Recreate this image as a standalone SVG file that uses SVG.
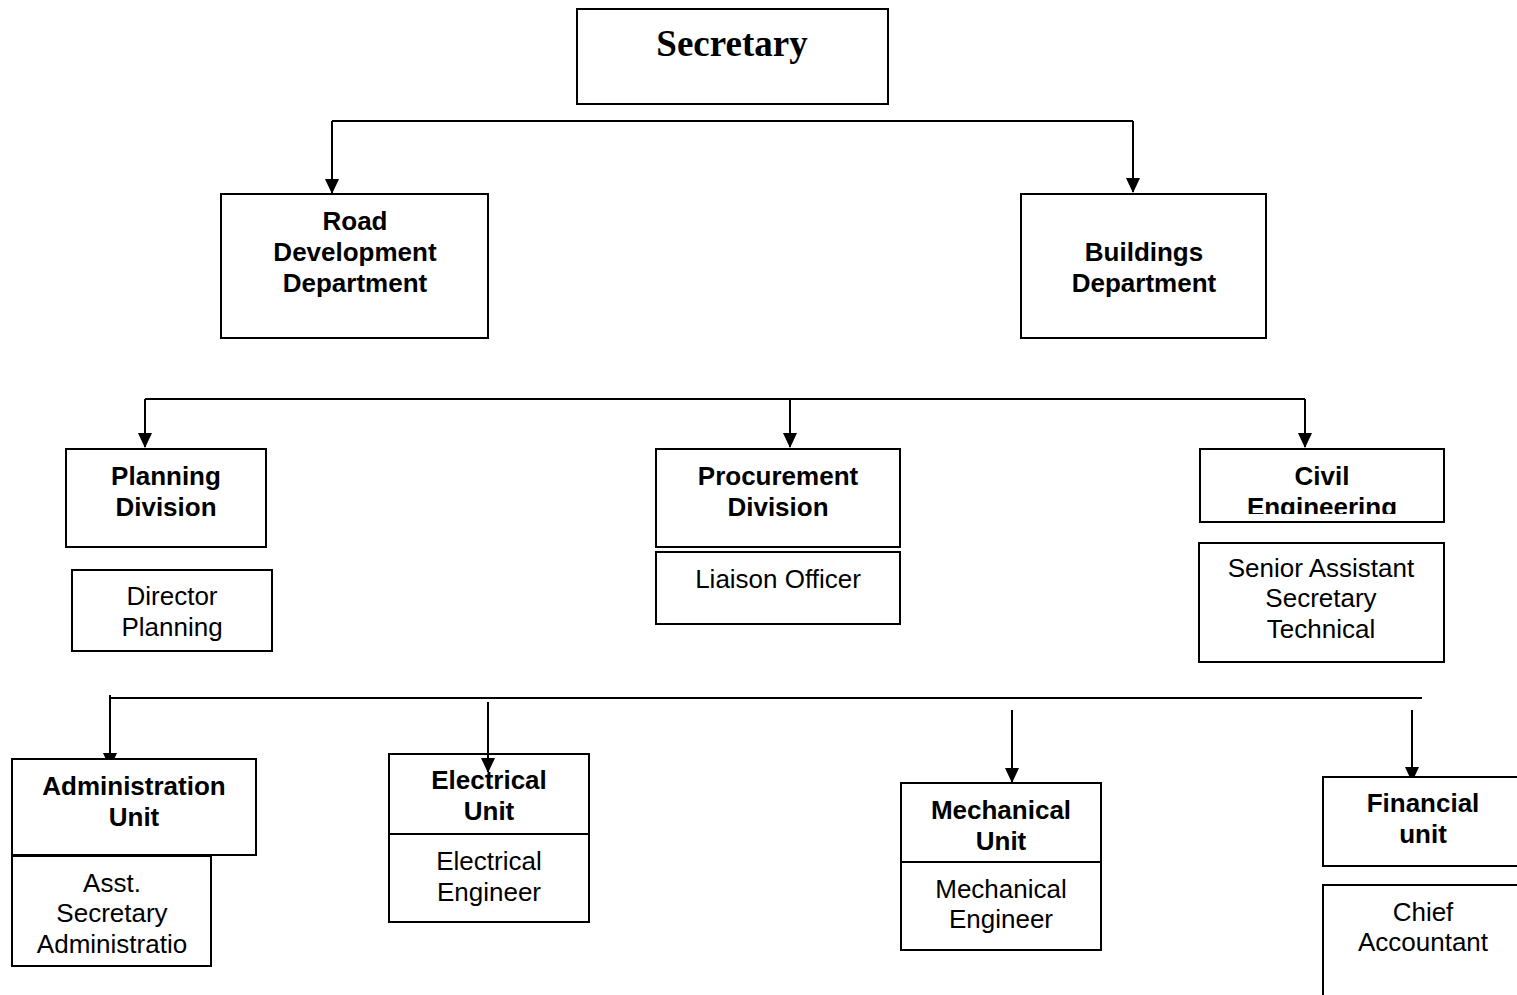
<svg xmlns="http://www.w3.org/2000/svg" width="1517" height="995" viewBox="0 0 1517 995">
  <style>
    .box { fill: #ffffff; stroke: #000000; stroke-width: 2; }
    .wire { fill: none; stroke: #000000; stroke-width: 2; }
    .hd { font-family: "Liberation Sans", Arial, sans-serif; font-size: 26px; font-weight: bold; text-anchor: middle; fill: #000000; }
    .tx { font-family: "Liberation Sans", Arial, sans-serif; font-size: 26px; text-anchor: middle; fill: #000000; }
    .top { font-family: "Liberation Serif", "Times New Roman", serif; font-size: 37px; font-weight: bold; text-anchor: middle; fill: #000000; }
  </style>
  <defs>
    <marker id="arrow" viewBox="0 0 15 14" refX="14" refY="7" markerUnits="userSpaceOnUse" markerWidth="15" markerHeight="14" orient="auto">
      <path d="M0,0 L15,7 L0,14 z" fill="#000000"/>
    </marker>
    <clipPath id="civilClip">
      <rect x="1200" y="449" width="244" height="65"/>
    </clipPath>
  </defs>

  <rect width="1517" height="995" fill="#ffffff"/>

  <!-- connectors -->
  <g id="connectors">
    <path class="wire" d="M332,121 H1133"/>
    <path class="wire" d="M332,121 V193" marker-end="url(#arrow)"/>
    <path class="wire" d="M1133,121 V192" marker-end="url(#arrow)"/>

    <path class="wire" d="M145,399 H1305"/>
    <path class="wire" d="M145,399 V447" marker-end="url(#arrow)"/>
    <path class="wire" d="M790,399 V447" marker-end="url(#arrow)"/>
    <path class="wire" d="M1305,399 V447" marker-end="url(#arrow)"/>

    <path class="wire" d="M110,698 H1422"/>
    <path class="wire" d="M110,695 V767" marker-end="url(#arrow)"/>
    <path class="wire" d="M1012,710 V782" marker-end="url(#arrow)"/>
    <path class="wire" d="M1412,710 V781" marker-end="url(#arrow)"/>
  </g>

  <g id="secretary">
    <rect class="box" x="577" y="9" width="311" height="95"/>
    <text class="top" x="732" y="56">Secretary</text>
  </g>

  <g id="road-development">
    <rect class="box" x="221" y="194" width="267" height="144"/>
    <text class="hd" x="355" y="230">Road</text>
    <text class="hd" x="355" y="261">Development</text>
    <text class="hd" x="355" y="292">Department</text>
  </g>

  <g id="buildings">
    <rect class="box" x="1021" y="194" width="245" height="144"/>
    <text class="hd" x="1144" y="261">Buildings</text>
    <text class="hd" x="1144" y="292">Department</text>
  </g>

  <g id="planning">
    <rect class="box" x="66" y="449" width="200" height="98"/>
    <text class="hd" x="166" y="485">Planning</text>
    <text class="hd" x="166" y="516">Division</text>
  </g>

  <g id="director-planning">
    <rect class="box" x="72" y="570" width="200" height="81"/>
    <text class="tx" x="172" y="605">Director</text>
    <text class="tx" x="172" y="636">Planning</text>
  </g>

  <g id="procurement">
    <rect class="box" x="656" y="449" width="244" height="98"/>
    <text class="hd" x="778" y="485">Procurement</text>
    <text class="hd" x="778" y="516">Division</text>
  </g>

  <g id="liaison-officer">
    <rect class="box" x="656" y="552" width="244" height="72"/>
    <text class="tx" x="778" y="588">Liaison Officer</text>
  </g>

  <g id="civil-engineering">
    <rect class="box" x="1200" y="449" width="244" height="73"/>
    <g clip-path="url(#civilClip)">
      <text class="hd" x="1322" y="485">Civil</text>
      <text class="hd" x="1322" y="516">Engineering</text>
    </g>
  </g>

  <g id="senior-assistant-secretary">
    <rect class="box" x="1199" y="543" width="245" height="119"/>
    <text class="tx" x="1321" y="577">Senior Assistant</text>
    <text class="tx" x="1321" y="607">Secretary</text>
    <text class="tx" x="1321" y="638">Technical</text>
  </g>

  <g id="administration-unit">
    <rect class="box" x="12" y="759" width="244" height="96"/>
    <text class="hd" x="134" y="795">Administration</text>
    <text class="hd" x="134" y="826">Unit</text>
  </g>

  <g id="asst-secretary">
    <rect class="box" x="12" y="856" width="199" height="110"/>
    <text class="tx" x="112" y="892">Asst.</text>
    <text class="tx" x="112" y="922">Secretary</text>
    <text class="tx" x="112" y="953">Administratio</text>
  </g>

  <g id="electrical-unit">
    <rect class="box" x="389" y="754" width="200" height="80"/>
    <text class="hd" x="489" y="789">Electrical</text>
    <text class="hd" x="489" y="820">Unit</text>
  </g>

  <g id="electrical-engineer">
    <rect class="box" x="389" y="834" width="200" height="88"/>
    <text class="tx" x="489" y="870">Electrical</text>
    <text class="tx" x="489" y="901">Engineer</text>
  </g>

  <g id="mechanical-unit">
    <rect class="box" x="901" y="783" width="200" height="79"/>
    <text class="hd" x="1001" y="819">Mechanical</text>
    <text class="hd" x="1001" y="850">Unit</text>
  </g>

  <g id="mechanical-engineer">
    <rect class="box" x="901" y="862" width="200" height="88"/>
    <text class="tx" x="1001" y="898">Mechanical</text>
    <text class="tx" x="1001" y="928">Engineer</text>
  </g>

  <g id="financial-unit">
    <rect class="box" x="1323" y="777" width="220" height="89"/>
    <text class="hd" x="1423" y="812">Financial</text>
    <text class="hd" x="1423" y="843">unit</text>
  </g>

  <g id="chief-accountant">
    <rect class="box" x="1323" y="885" width="220" height="130"/>
    <text class="tx" x="1423" y="921">Chief</text>
    <text class="tx" x="1423" y="951">Accountant</text>
  </g>

  <!-- this connector runs over the top of the Electrical Unit box, so it is drawn last -->
  <g id="connector-electrical">
    <path class="wire" d="M488,702 V772" marker-end="url(#arrow)"/>
  </g>
</svg>
